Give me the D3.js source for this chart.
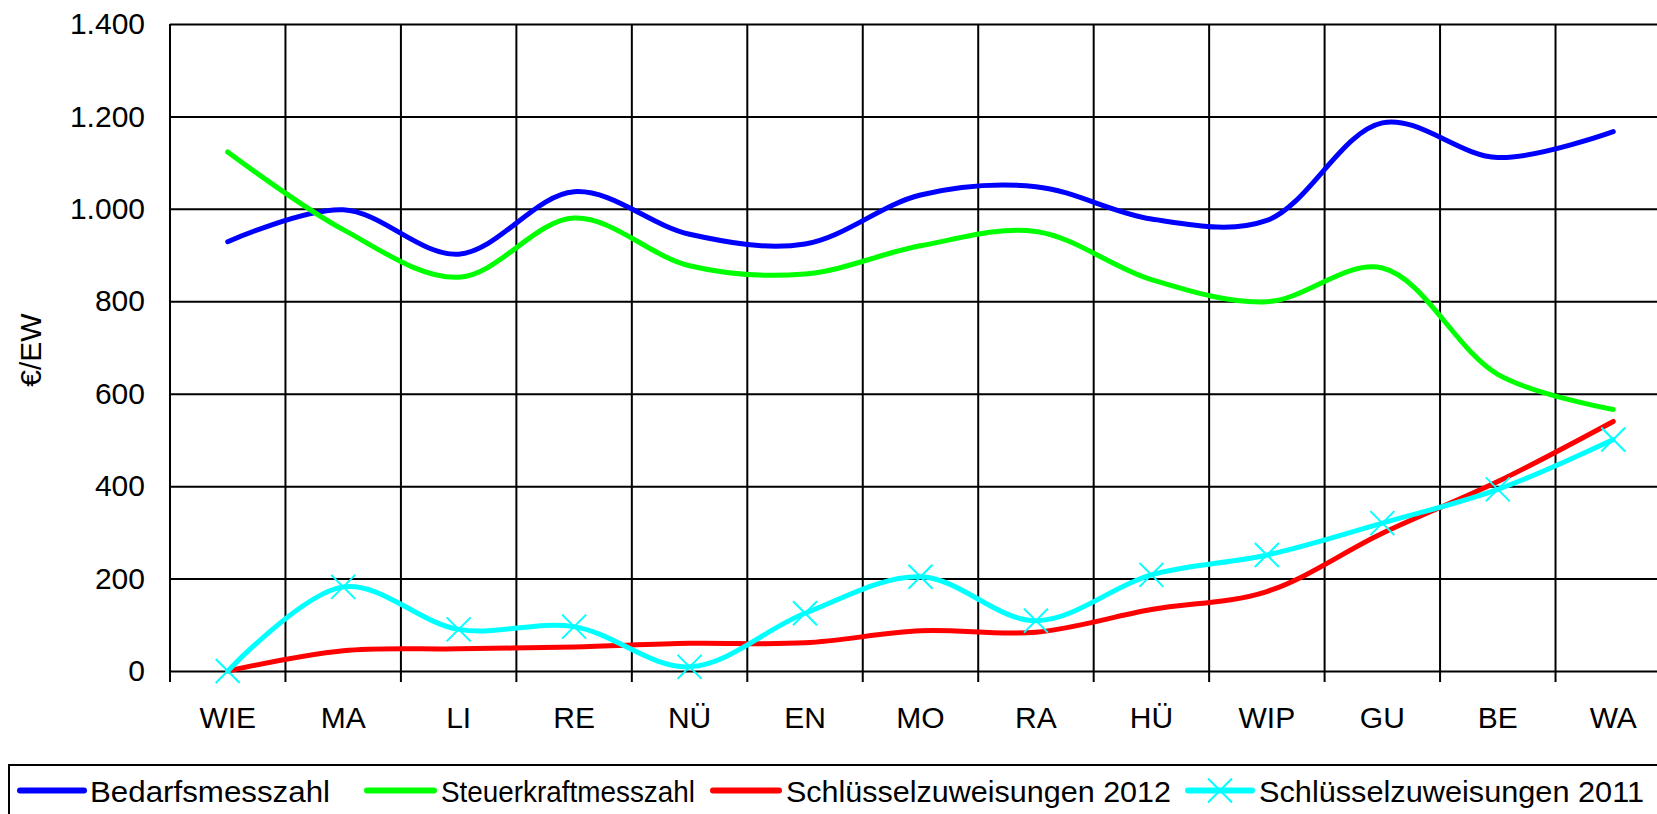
<!DOCTYPE html>
<html>
<head>
<meta charset="utf-8">
<script src="https://cdn.jsdelivr.net/npm/d3@7"></script>
<style>
  html, body { margin: 0; padding: 0; background: #fff; overflow: hidden; }
  text { font-family: "Liberation Sans", Arial, sans-serif; fill: #000; }
</style>
</head>
<body>
<svg id="chart" width="1657" height="814"></svg>
<script>
const categories = ["WIE", "MA", "LI", "RE", "NÜ", "EN", "MO", "RA", "HÜ", "WIP", "GU", "BE", "WA"];
const bedarfsmesszahl = [929, 998, 902, 1037, 945, 924, 1030, 1048, 978, 975, 1186, 1111, 1167];
const steuerkraftmesszahl = [1123, 955, 852, 980, 877, 859, 920, 951, 847, 799, 872, 642, 566];
const schluessel2012 = [0, 44, 48, 52, 60, 61, 87, 84, 133, 172, 298, 410, 540];
const schluessel2011 = [0, 182, 90, 96, 9, 125, 204, 109, 208, 251, 320, 393, 501];
const yTicks = [0, 200, 400, 600, 800, 1000, 1200, 1400];
const seriesNames = ["Bedarfsmesszahl", "Steuerkraftmesszahl", "Schlüsselzuweisungen 2012", "Schlüsselzuweisungen 2011"];

(function () {
const series = [
  { name: seriesNames[0], values: bedarfsmesszahl, color: "#0000ff", marker: false },
  { name: seriesNames[1], values: steuerkraftmesszahl, color: "#00ff00", marker: false },
  { name: seriesNames[2], values: schluessel2012, color: "#ff0000", marker: false },
  { name: seriesNames[3], values: schluessel2011, color: "#00ffff", marker: true }
];

const svg = d3.select("#chart");
const pLeft = 170, pTop = 24, pBottom = 671, bandW = 115.46;
const pRight = pLeft + bandW * categories.length;

const x = d3.scaleBand().domain(categories).range([pLeft, pRight]).paddingInner(0).paddingOuter(0);
const y = d3.scaleLinear().domain([0, 1400]).range([pBottom, pTop]);
const fs = 30;

const yAxis = d3.axisLeft(y).tickValues(yTicks)
  .tickFormat(d => d3.format(",")(d).replace(/,/g, "."))
  .tickSize(-(pRight - pLeft)).tickPadding(25);
const gy = svg.append("g").attr("transform", `translate(${pLeft},0)`).call(yAxis);
gy.select(".domain").remove();
gy.selectAll(".tick line").attr("stroke", "#000").attr("stroke-width", 2);
gy.selectAll(".tick text").attr("font-size", fs).attr("font-family", "Liberation Sans, Arial, sans-serif").attr("fill", "#000");

const bounds = categories.map(c => x(c)).concat([pRight]);
svg.append("g").selectAll("line").data(bounds).join("line")
  .attr("x1", d => d).attr("x2", d => d)
  .attr("y1", pTop).attr("y2", pBottom + 11)
  .attr("stroke", "#000").attr("stroke-width", 2);

const xAxis = d3.axisBottom(x).tickSize(0).tickPadding(0);
const gx = svg.append("g").attr("transform", `translate(0,${pBottom})`).call(xAxis);
gx.select(".domain").remove();
gx.selectAll(".tick text").attr("font-size", fs).attr("font-family", "Liberation Sans, Arial, sans-serif")
  .attr("fill", "#000").attr("y", 57).attr("dy", 0);

svg.append("text").attr("transform", "translate(41,350) rotate(-90)")
  .attr("text-anchor", "middle").attr("font-size", fs).text("€/EW");

const line = d3.line()
  .x((d, i) => x(categories[i]) + x.bandwidth() / 2)
  .y(d => y(d))
  .curve(d3.curveCatmullRom.alpha(0.5));

const xMark = (g, cx, cy, r, color) => {
  g.append("path")
    .attr("d", `M${cx - r},${cy - r}L${cx + r},${cy + r}M${cx - r},${cy + r}L${cx + r},${cy - r}`)
    .attr("stroke", color).attr("stroke-width", 2).attr("fill", "none");
};

const gl = svg.append("g");
series.forEach(s => {
  gl.append("path").datum(s.values).attr("d", line)
    .attr("fill", "none").attr("stroke", s.color).attr("stroke-width", 5)
    .attr("stroke-linejoin", "round").attr("stroke-linecap", "round");
});
series.filter(s => s.marker).forEach(s => {
  s.values.forEach((v, i) => xMark(gl, x(categories[i]) + x.bandwidth() / 2, y(v), 12, s.color));
});

const lg = svg.append("g");
lg.append("rect").attr("x", 9).attr("y", 765).attr("width", 1700).attr("height", 100)
  .attr("fill", "none").attr("stroke", "#000").attr("stroke-width", 2);
const legendPos = [
  { x1: 20, x2: 84, tx: 90, tw: 240 },
  { x1: 367, x2: 434, tx: 441, tw: 254 },
  { x1: 713, x2: 779, tx: 786, tw: 385 },
  { x1: 1188, x2: 1252, tx: 1259, tw: 385 }
];
series.forEach((s, i) => {
  const p = legendPos[i];
  lg.append("line").attr("x1", p.x1).attr("x2", p.x2).attr("y1", 790.5).attr("y2", 790.5)
    .attr("stroke", s.color).attr("stroke-width", 6).attr("stroke-linecap", "round");
  if (s.marker) xMark(lg, (p.x1 + p.x2) / 2, 790.5, 12, s.color);
  lg.append("text").attr("x", p.tx).attr("y", 802).attr("font-size", fs)
    .attr("textLength", p.tw).attr("lengthAdjust", "spacingAndGlyphs").text(s.name);
});
})();
</script>
</body>
</html>
